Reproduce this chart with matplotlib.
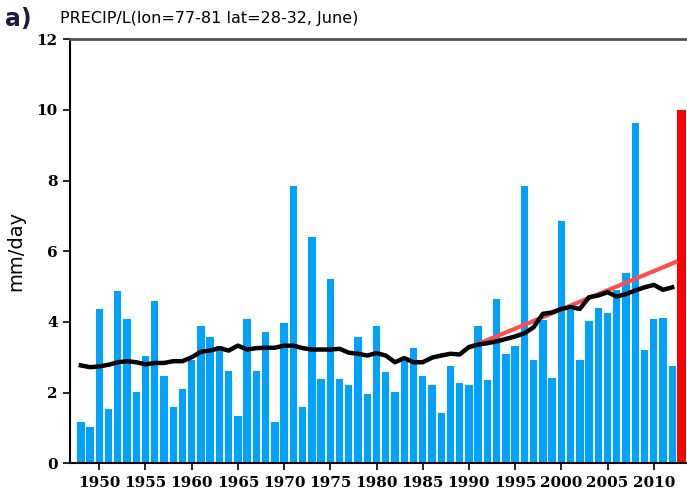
"""
June precipitation, lon 77-81 lat 28-32: yearly bars, running mean and recent trend.
"""
import matplotlib
matplotlib.use("Agg")
import matplotlib.pyplot as plt
import numpy as np

years = np.arange(1948, 2013)
precip = [1.18, 1.02, 4.36, 1.54, 4.87, 4.08, 2.02, 3.05, 4.60, 2.46,
          1.58, 2.10, 2.93, 3.88, 3.57, 3.31, 2.62, 1.34, 4.08, 2.62,
          3.72, 1.18, 3.97, 7.85, 1.58, 6.41, 2.38, 5.23, 2.38, 2.22,
          3.57, 1.95, 3.88, 2.58, 2.02, 2.95, 3.25, 2.46, 2.22, 1.42,
          2.74, 2.27, 2.22, 3.88, 2.35, 4.64, 3.09, 3.32, 7.85, 2.93,
          4.05, 2.42, 6.86, 4.33, 2.93, 4.04, 4.40, 4.24, 4.90, 5.39,
          9.62, 3.21, 4.08, 4.12, 2.74]
running_mean = [2.77, 2.72, 2.74, 2.79, 2.86, 2.89, 2.86, 2.80, 2.84, 2.84,
                2.89, 2.89, 3.00, 3.16, 3.19, 3.26, 3.19, 3.33, 3.22, 3.26,
                3.27, 3.27, 3.33, 3.33, 3.26, 3.22, 3.22, 3.22, 3.24, 3.13,
                3.10, 3.05, 3.12, 3.05, 2.86, 2.98, 2.86, 2.86, 2.99, 3.05,
                3.10, 3.08, 3.29, 3.36, 3.40, 3.45, 3.52, 3.59, 3.68, 3.85,
                4.23, 4.27, 4.37, 4.42, 4.37, 4.70, 4.75, 4.84, 4.72, 4.79,
                4.89, 4.98, 5.05, 4.91, 4.98]
trend_years = [1990, 2012.6]
trend_values = [3.27, 5.72]
year_2013 = [2013]
value_2013 = [10.0]

fig = plt.figure(figsize=(6.87, 4.91), dpi=100)
ax = fig.add_axes([70 / 687, 27.7 / 491, 617 / 687, 424 / 491])

ax.bar(years, precip, width=0.8, color="#00a2ff", zorder=2)
ax.bar(year_2013, value_2013, width=1.0, color="#ff0000", zorder=2)
ax.plot(trend_years, trend_values, color="#ff4d4d", lw=3, zorder=3,
        solid_capstyle="butt")
ax.plot(years, running_mean, color="black", lw=3.2, zorder=4)

ax.set_xlim(1946.83, 2013.6)
ax.set_ylim(0, 12)
ax.set_xticks(np.arange(1950, 2011, 5))
ax.set_yticks(np.arange(0, 13, 2))
ax.tick_params(direction="out", length=5, width=1.2, colors="black", pad=4)
for lab in ax.get_xticklabels() + ax.get_yticklabels():
    lab.set_fontfamily("DejaVu Serif")
    lab.set_fontweight("bold")
    lab.set_fontsize(11)

ax.spines["right"].set_visible(False)
ax.spines["left"].set_linewidth(1.5)
ax.spines["bottom"].set_linewidth(1.5)
ax.spines["top"].set_linewidth(2)
ax.spines["top"].set_color("#555555")

ax.set_ylabel("mm/day", fontsize=14, fontweight="medium", labelpad=8)
fig.text(60 / 687, 1 - 18 / 491, "PRECIP/L(lon=77-81 lat=28-32, June)",
         fontsize=11.5, fontweight="medium", va="center", ha="left")
fig.text(5 / 687, 1 - 19 / 491, "a)", fontsize=17, fontweight="bold",
         va="center", ha="left", color="#1c1c3a")

plt.savefig("out.png", dpi=100)
plt.close(fig)
